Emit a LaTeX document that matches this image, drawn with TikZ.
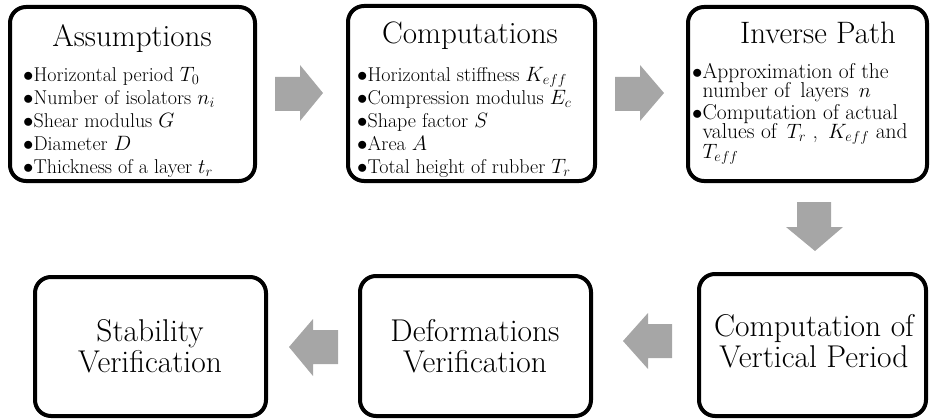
\documentclass[tikz,border=0pt]{standalone}
\usetikzlibrary{calc}
\definecolor{arrowgray}{HTML}{A6A6A6}
\newcommand{\tightlines}{\lineskiplimit=-30pt\relax}
\begin{document}
\begin{tikzpicture}[x=1pt,y=-1pt,
  box/.style={draw=black, line width=4pt, rounded corners=16pt, fill=white, inner sep=0pt},
  title/.style={font=\fontsize{31}{34}\selectfont, anchor=base, inner sep=0pt},
  bullets/.style={font=\fontsize{20}{23}\selectfont\tightlines, anchor=base west, align=left, inner sep=0pt},
  bullets3/.style={font=\fontsize{21.5}{19.5}\selectfont\tightlines, anchor=base west, align=left, inner sep=0pt},
  big/.style={font=\fontsize{31.5}{30.5}\selectfont\tightlines, anchor=base, align=center, inner sep=0pt},
  blockarrow/.style={fill=arrowgray, draw=none}]
\useasboundingbox (0,0) rectangle (930,420);
% boxes
\node[box, minimum width=245pt, minimum height=174pt] (assum) at (132.5,94) {};
\node[box, minimum width=247pt, minimum height=175pt] (comp) at (471.5,93.5) {};
\node[box, minimum width=239pt, minimum height=174pt] (inv) at (807.5,94) {};
\node[box, minimum width=231pt, minimum height=139pt] (stab) at (150.5,346.5) {};
\node[box, minimum width=231pt, minimum height=140pt] (deform) at (475.5,346) {};
\node[box, minimum width=227pt, minimum height=142pt] (vert) at (812.5,345) {};
% titles
\node[title] (assumT) at (132,47) {Assumptions};
\node[title] (compT) at (470,44) {Computations};
\node[title] (invT) at (818,44) {Inverse Path};
% bullet lists (anchor = baseline of the last line)
\node[bullets] (assumL) at (23,173) {$\bullet$Horizontal period $T_0$\\
$\bullet$Number of isolators $n_i$\\
$\bullet$Shear modulus $G$\\
$\bullet$Diameter $D$\\
$\bullet$Thickness of a layer $t_r$};
\node[bullets] (compL) at (357,173) {$\bullet$Horizontal stiffness $K_{eff}$\\
$\bullet$Compression modulus $E_c$\\
$\bullet$Shape factor $S$\\
$\bullet$Area $A$\\
$\bullet$Total height of rubber $T_r$};
\node[bullets3] (invL) at (692,158) {$\bullet$Approximation of the\\
\phantom{$\bullet$}number of \,layers \,$n$\\[2pt]
$\bullet$Computation of actual\\
\phantom{$\bullet$}values of \,$T_r$ , \,$K_{eff}$ and\\
\phantom{$\bullet$}$T_{eff}$};
% bottom texts (anchor = baseline of the last line)
\node[big] (stabT) at (150,372) {Stability\\Verification};
\node[big] (deformT) at (475,372) {Deformations\\Verification};
\node[big] (vertT) at (814,367) {Computation of\\Vertical Period};
% block arrows
\fill[blockarrow] (275,77) -- (300,77) -- (300,65) -- (323,93) -- (300,121) -- (300,111) -- (275,111) -- cycle;
\fill[blockarrow] (615,77) -- (640,77) -- (640,65) -- (664,93) -- (640,121) -- (640,111) -- (615,111) -- cycle;
\fill[blockarrow] (797,202) -- (831,202) -- (831,227) -- (843,227) -- (815,251) -- (786,227) -- (797,227) -- cycle;
\fill[blockarrow] (338,330) -- (313,330) -- (313,319) -- (289,347) -- (313,376) -- (313,364) -- (338,364) -- cycle;
\fill[blockarrow] (672,324) -- (648,324) -- (648,313) -- (623,341) -- (648,369) -- (648,358) -- (672,358) -- cycle;
\end{tikzpicture}
\end{document}
